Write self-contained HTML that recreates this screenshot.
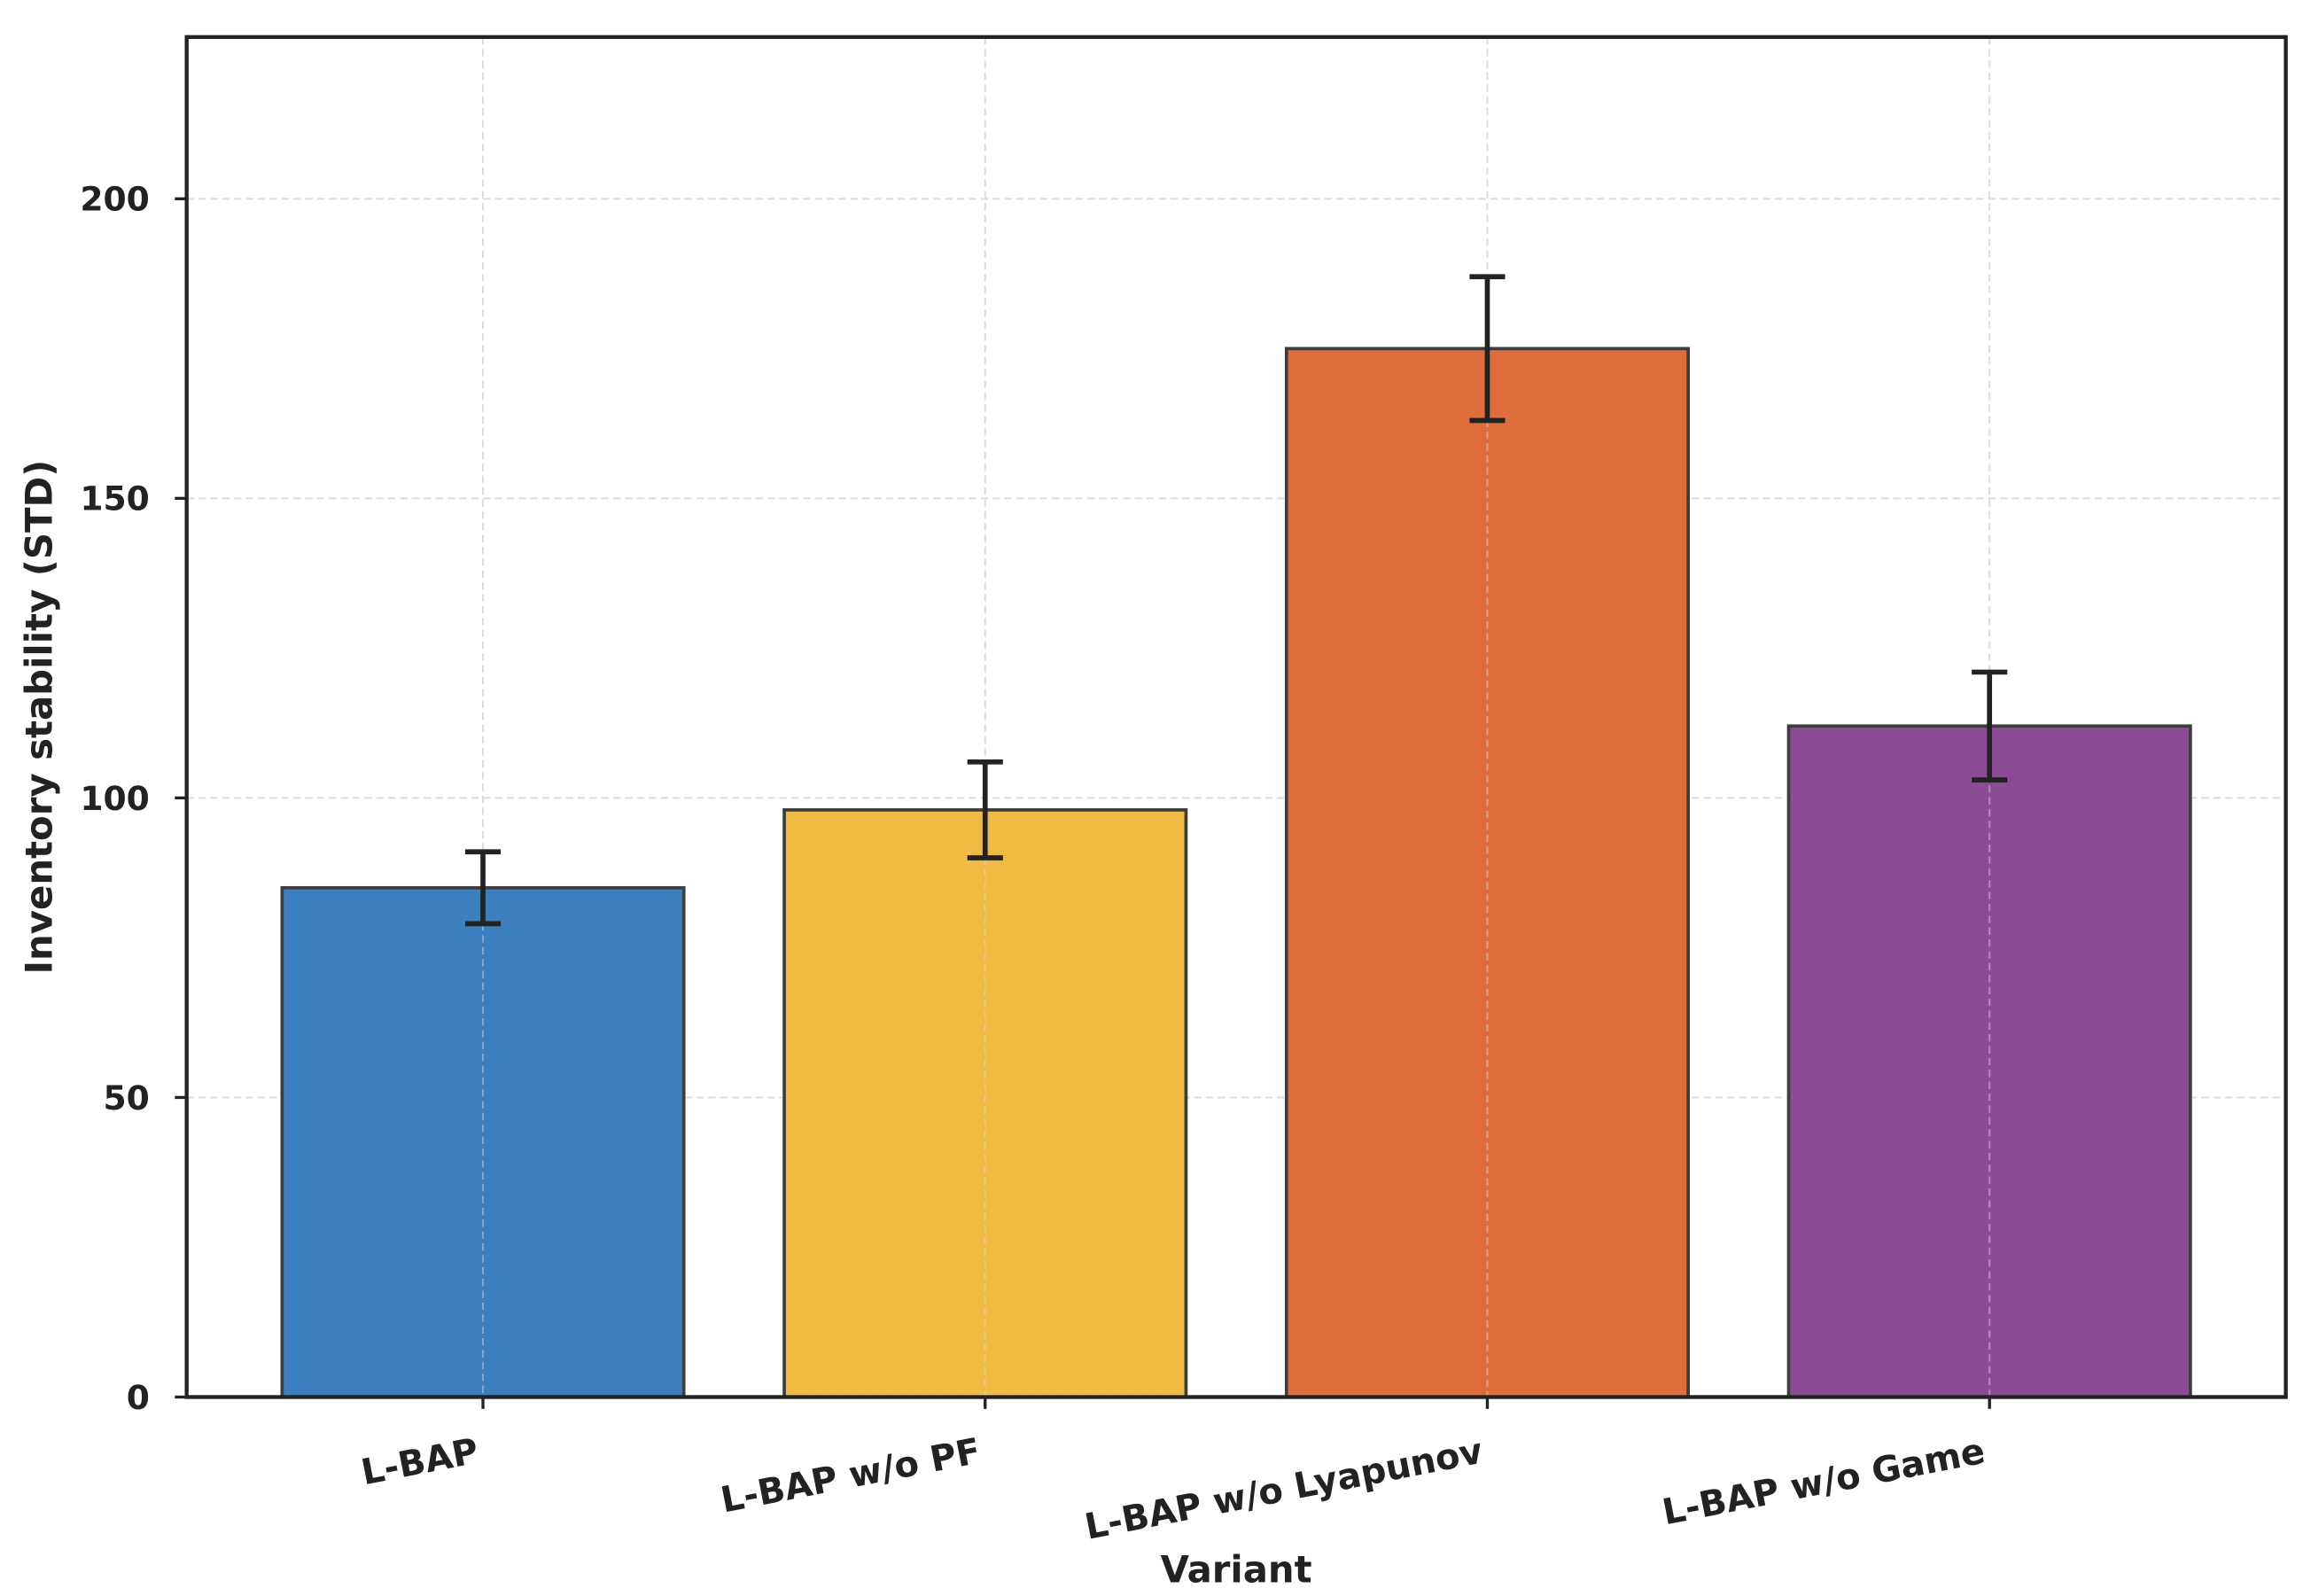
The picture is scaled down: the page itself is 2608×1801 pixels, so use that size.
<!DOCTYPE html>
<html><head><meta charset="utf-8"><style>
html,body{margin:0;padding:0;background:#fff;}
svg{display:block;font-family:"DejaVu Sans","Liberation Sans",sans-serif;font-weight:bold;}
</style></head><body>
<svg id="chart" width="2608" height="1801" viewBox="0 0 1560 1077.3" xmlns="http://www.w3.org/2000/svg"></svg>
<script>
const categories = ["L-BAP", "L-BAP w/o PF", "L-BAP w/o Lyapunov", "L-BAP w/o Game"];
const values = [85, 98, 175, 112];
const errors = [6, 8, 12, 9];
const colors = ["#367bbd", "#f0b93d", "#de6836", "#874692"];
const yTicks = [0, 50, 100, 150, 200];

const svg = document.getElementById('chart');
const NS = 'http://www.w3.org/2000/svg';
const L = 126, R = 1543, T = 25, B = 943;
const yMax = 227, xMin = -0.59, xMax = categories.length - 1 + 0.59;
const y = v => B - (v / yMax) * (B - T);
const x = i => L + (i - xMin) / (xMax - xMin) * (R - L);
const slot = x(1) - x(0);
function mk(tag, attrs, parent) {
  const e = document.createElementNS(NS, tag);
  for (const k in attrs) e.setAttribute(k, attrs[k]);
  (parent || svg).appendChild(e);
  return e;
}
yTicks.forEach(t => {
  const g = mk('line', {x1: L, x2: R, y1: y(t), y2: y(t), stroke: '#dcdcdc', 'stroke-width': 1.2, 'stroke-dasharray': '5,3'});
  
  
});
categories.forEach((c, i) => {
  const g = mk('line', {x1: x(i), x2: x(i), y1: T, y2: B, stroke: '#dcdcdc', 'stroke-width': 1.2, 'stroke-dasharray': '5,3'});
  
  
});
categories.forEach((c, i) => {
  const w = slot * 0.8;
  const b = mk('rect', {x: x(i) - w / 2, y: y(values[i]), width: w, height: B - y(values[i]), fill: colors[i], stroke: '#3d3d3d', 'stroke-width': 2.2, 'fill-opacity': 0.97});
  
  
  const gl = mk('line', {x1: x(i), x2: x(i), y1: y(values[i]), y2: B, stroke: 'rgba(220,220,220,0.45)', 'stroke-width': 1.2, 'stroke-dasharray': '5,3'});
  
  
  const eg = mk('g', {stroke: '#222', 'stroke-width': 3.4});
  
  
  const lo = values[i] - errors[i], hi = values[i] + errors[i];
  mk('line', {x1: x(i), x2: x(i), y1: y(hi), y2: y(lo)}, eg);
  mk('line', {x1: x(i) - 12, x2: x(i) + 12, y1: y(hi), y2: y(hi)}, eg);
  mk('line', {x1: x(i) - 12, x2: x(i) + 12, y1: y(lo), y2: y(lo)}, eg);
  const tk = mk('line', {x1: x(i), x2: x(i), y1: B, y2: B + 8, stroke: '#222', 'stroke-width': 2});
  
  
  const ty = B + 44;
  const t = mk('text', {x: x(i) - 2, y: ty, 'text-anchor': 'end', 'font-size': 24, fill: '#222', transform: `rotate(-11 ${x(i) - 2} ${ty})`});
  t.textContent = c;
  
  
});
yTicks.forEach(v => {
  const tk = mk('line', {x1: L - 8, x2: L, y1: y(v), y2: y(v), stroke: '#222', 'stroke-width': 2});
  
  
  const t = mk('text', {x: L - 25, y: y(v) + 8, 'text-anchor': 'end', 'font-size': 22.5, fill: '#222'});
  t.textContent = v;
  
  
});
const fr = mk('rect', {x: L, y: T, width: R - L, height: B - T, fill: 'none', stroke: '#222', 'stroke-width': 2.6});


const xl = mk('text', {x: (L + R) / 2, y: 1068, 'text-anchor': 'middle', 'font-size': 25, fill: '#222'});
xl.textContent = 'Variant';


const yl = mk('text', {x: 0, y: 0, 'text-anchor': 'middle', 'font-size': 25, fill: '#222', transform: `translate(35 ${(T + B) / 2}) rotate(-90)`});
yl.textContent = 'Inventory stability (STD)';


</script>
</body></html>
